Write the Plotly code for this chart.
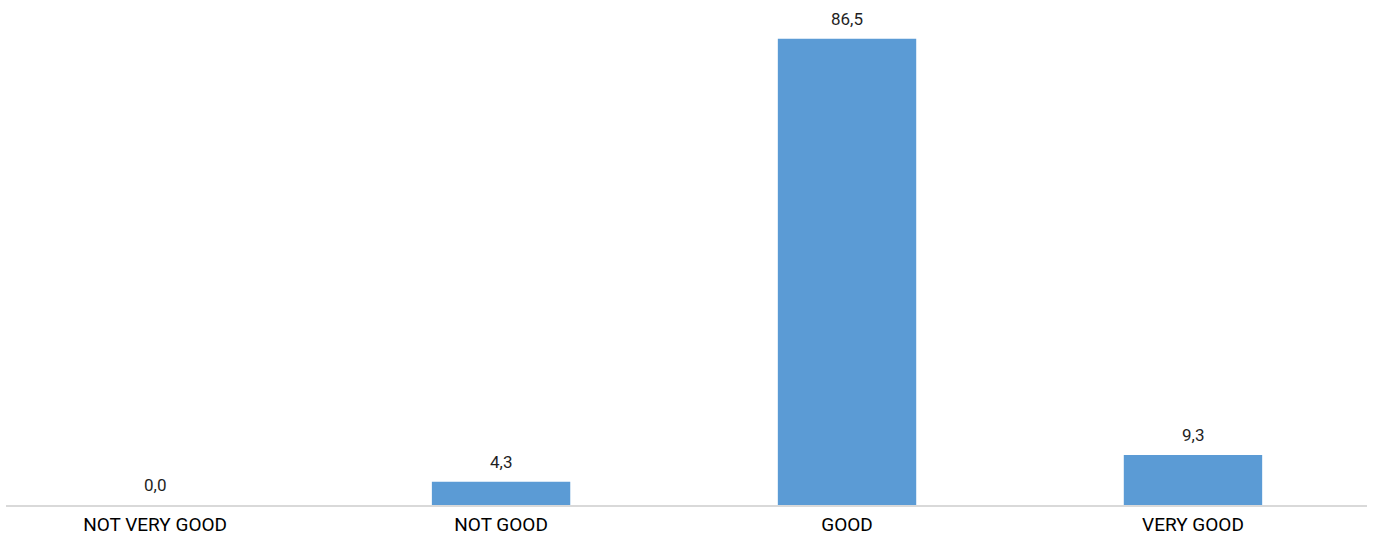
import plotly.graph_objects as go

categories = ["NOT VERY GOOD", "NOT GOOD", "GOOD", "VERY GOOD"]
values = [0.0, 4.3, 86.5, 9.3]
labels = [f"{v:.1f}".replace(".", ",") for v in values]

FONT = "Roboto, Arial, sans-serif"

fig = go.Figure(go.Bar(
    x=categories, y=values,
    marker=dict(color="#5b9bd5", line=dict(width=0)),
    width=0.40,
))
for c, v, t in zip(categories, values, labels):
    fig.add_annotation(x=c, y=v, text=t, showarrow=False, yanchor="bottom",
                       yshift=8, font=dict(family=FONT, size=17, color="#1f1f1f"))
fig.update_layout(
    width=1375, height=535,
    margin=dict(l=6, r=8, t=0, b=30),
    paper_bgcolor="white", plot_bgcolor="white",
    showlegend=False,
    xaxis=dict(type="category", range=[-0.431, 3.503], showgrid=False,
               showline=True, linecolor="#d9d9d9", linewidth=1.5,
               ticks="", ticklabelstandoff=1, automargin=False,
               tickfont=dict(family=FONT, size=19, color="#000000")),
    yaxis=dict(range=[0, 93.7], visible=False, showgrid=False, zeroline=False),
)
fig.write_html("out.html")
